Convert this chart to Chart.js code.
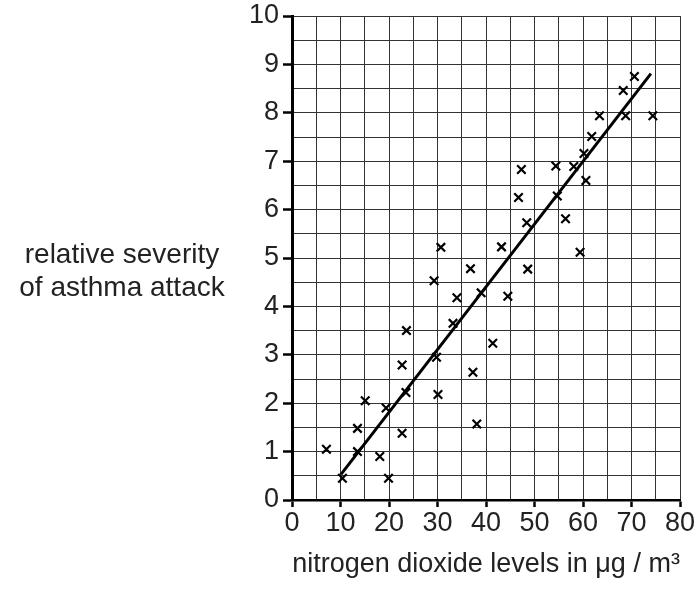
<!DOCTYPE html>
<html>
<head>
<meta charset="utf-8">
<script src="https://cdn.jsdelivr.net/npm/chart.js@4/dist/chart.umd.min.js"></script>
<style>
  body { margin: 0; background: #fff; }
</style>
</head>
<body>
<canvas id="scatter" width="699" height="589"></canvas>
<script>
// nitrogen dioxide (ug/m3) vs relative severity of asthma attack
var no2 = [7.1, 10.4, 13.5, 13.5, 15.1, 18.1, 19.4, 19.9, 22.7, 22.7, 23.5, 23.6,
  29.3, 29.8, 30.1, 30.7, 33.2, 34.0, 36.8, 37.3, 38.1, 39.0, 41.4, 43.2,
  44.5, 46.7, 47.3, 48.4, 48.6, 54.4, 54.7, 56.4, 58.1, 59.4, 60.2, 60.6,
  61.8, 63.4, 68.3, 68.8, 70.6, 74.4];
var severity = [1.05, 0.45, 1.0, 1.48, 2.05, 0.9, 1.9, 0.45, 1.38, 2.79, 2.22, 3.5,
  4.53, 2.95, 2.18, 5.22, 3.65, 4.18, 4.78, 2.64, 1.57, 4.28, 3.24, 5.23,
  4.21, 6.25, 6.83, 5.73, 4.77, 6.9, 6.28, 5.81, 6.89, 5.12, 7.16, 6.6,
  7.51, 7.94, 8.46, 7.94, 8.75, 7.94];
var fitX = [10.1, 74.0];
var fitY = [0.53, 8.81];

var points = no2.map(function (x, i) { return { x: x, y: severity[i] }; });
var fitLine = fitX.map(function (x, i) { return { x: x, y: fitY[i] }; });

var font = "'Liberation Sans', Arial, sans-serif";

var yTitle = {
  id: "yTitle",
  afterDraw: function (chart) {
    var c = chart.ctx;
    var area = chart.chartArea;
    c.save();
    c.fillStyle = "#222";
    c.font = "28px " + font;
    c.textAlign = "center";
    c.textBaseline = "middle";
    c.fillText("relative severity", area.left - 170, 255);
    c.fillText("of asthma attack", area.left - 170, 288);
    c.restore();
  }
};

function isWhole(v, step) {
  var q = v / step;
  return Math.abs(q - Math.round(q)) < 1e-6;
}

var chart = new Chart(document.getElementById("scatter").getContext("2d"), {
  type: "scatter",
  data: {
    datasets: [
      {
        label: "readings",
        data: points,
        pointStyle: "crossRot",
        pointRadius: 6,
        pointBorderWidth: 2.2,
        borderColor: "#000",
        backgroundColor: "#000",
      },
      {
        label: "best fit",
        data: fitLine,
        showLine: true,
        pointRadius: 0,
        borderColor: "#000",
        borderWidth: 3,
      },
    ],
  },
  options: {
    responsive: false,
    animation: false,
    layout: { padding: { left: 0, right: 19, top: 0, bottom: 0 } },
    plugins: {
      legend: { display: false },
      tooltip: { enabled: false },
    },
    scales: {
      x: {
        type: "linear",
        min: 0,
        max: 80,
        afterFit: function (s) { s.height = 89; },
        ticks: {
          stepSize: 5,
          autoSkip: false,
          maxRotation: 0,
          padding: 0,
          color: "#222",
          font: { size: 27, family: font },
          callback: function (v) { return isWhole(v, 10) ? v : ""; },
        },
        grid: {
          color: "#333",
          lineWidth: 1,
          tickLength: 7,
          tickWidth: 2.5,
          tickColor: function (ctx) {
            return ctx.tick && isWhole(ctx.tick.value, 10) ? "#000" : "rgba(0,0,0,0)";
          },
        },
        border: { color: "#000", width: 2.5 },
        title: {
          display: true,
          text: "nitrogen dioxide levels in \u03bcg / m\u00b3",
          color: "#222",
          font: { size: 27, family: font },
          padding: { top: 4, bottom: 8 },
        },
      },
      y: {
        type: "linear",
        min: 0,
        max: 10,
        afterFit: function (s) { s.width = 292; s.paddingTop = 16; },
        ticks: {
          stepSize: 0.5,
          autoSkip: false,
          padding: 4,
          color: "#222",
          font: { size: 27, family: font },
          callback: function (v) { return isWhole(v, 1) ? v : ""; },
        },
        grid: {
          color: "#333",
          lineWidth: 1,
          tickLength: 9,
          tickWidth: 2.5,
          tickColor: function (ctx) {
            return ctx.tick && isWhole(ctx.tick.value, 1) ? "#000" : "rgba(0,0,0,0)";
          },
        },
        border: { color: "#000", width: 3 },
      },
    },
  },
  plugins: [yTitle],
});
</script>
</body>
</html>
